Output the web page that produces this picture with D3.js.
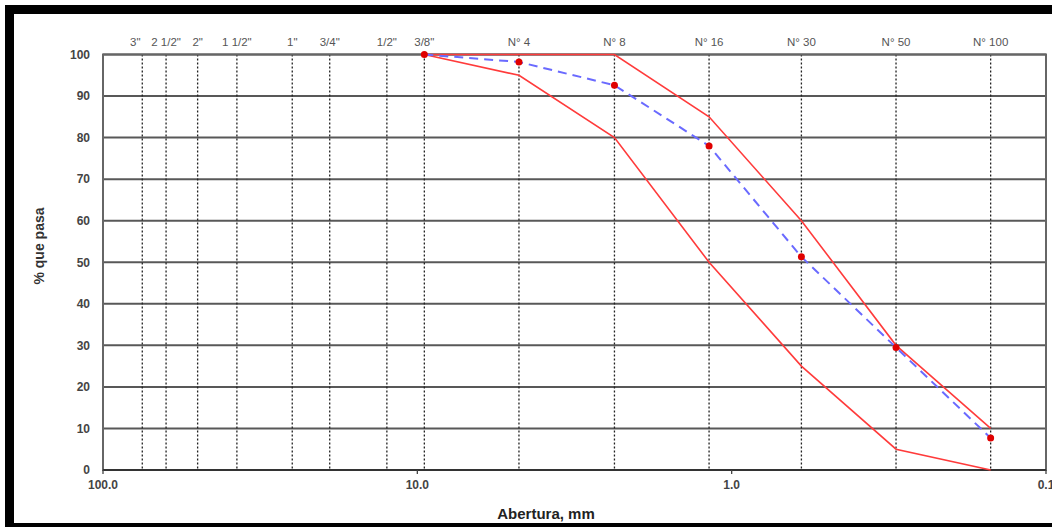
<!DOCTYPE html>
<html>
<head>
<meta charset="utf-8">
<script src="https://cdn.jsdelivr.net/npm/d3@7"></script>
<style>
  body { margin: 0; background: #fff; }
  svg { display: block; font-family: "Liberation Sans", Arial, sans-serif; }
</style>
</head>
<body>
<div id="chart"></div>
<script>
// sieve names and openings (mm)
var sieveLabels = ['3"', '2 1/2"', '2"', '1 1/2"', '1"', '3/4"', '1/2"', '3/8"', 'N° 4', 'N° 8', 'N° 16', 'N° 30', 'N° 50', 'N° 100'];
var sieveSizes  = [75, 63, 50, 37.5, 25, 19, 12.5, 9.5, 4.75, 2.36, 1.18, 0.6, 0.3, 0.15];

// gradation curves (from 3/8" down to N° 100)
var curveSizes = [9.5, 4.75, 2.36, 1.18, 0.6, 0.3, 0.15];
var upperLimit = [100, 100, 100, 85, 60, 30, 10];
var lowerLimit = [100, 95, 80, 50, 25, 5, 0];
var sample     = [100, 98.2, 92.6, 78, 51.3, 29.5, 7.7];

var xTicks = [100, 10, 1, 0.1];
var yTicks = [0, 10, 20, 30, 40, 50, 60, 70, 80, 90, 100];

(function() {
  var W = 1052, H = 527;
  var pl = 103, pr = 1046, pt = 54.5, pb = 470;

  var svg = d3.select('#chart').append('svg')
    .attr('width', W)
    .attr('height', H);

  var x = d3.scaleLog().domain([100, 0.1]).range([pl, pr]);
  var y = d3.scaleLinear().domain([0, 100]).range([pb, pt]);

  // horizontal grid
  svg.append('g')
    .selectAll('line')
    .data(yTicks)
    .enter().append('line')
      .attr('x1', pl).attr('x2', pr)
      .attr('y1', function(d) { return y(d); })
      .attr('y2', function(d) { return y(d); })
      .attr('stroke', '#585858')
      .attr('stroke-width', 2);

  // sieve lines
  svg.append('g')
    .selectAll('line')
    .data(sieveSizes)
    .enter().append('line')
      .attr('x1', function(d) { return x(d); })
      .attr('x2', function(d) { return x(d); })
      .attr('y1', pt).attr('y2', pb)
      .attr('stroke', '#222')
      .attr('stroke-width', 1.3)
      .attr('stroke-dasharray', '2,2');

  // frame
  svg.append('rect')
    .attr('x', pl).attr('y', pt)
    .attr('width', pr - pl).attr('height', pb - pt)
    .attr('fill', 'none')
    .attr('stroke', '#666')
    .attr('stroke-width', 2);

  svg.append('line')
    .attr('x1', pl).attr('x2', pr)
    .attr('y1', pb).attr('y2', pb)
    .attr('stroke', '#333').attr('stroke-width', 2);

  // y axis labels
  svg.append('g')
    .selectAll('text')
    .data(yTicks)
    .enter().append('text')
      .attr('x', 90)
      .attr('y', function(d) { return y(d); })
      .attr('dy', '0.36em')
      .attr('text-anchor', 'end')
      .attr('font-size', 12)
      .attr('font-weight', 'bold')
      .attr('fill', '#444')
      .text(function(d) { return d; });

  // x axis ticks + labels
  var xg = svg.append('g');
  xg.selectAll('line')
    .data(xTicks)
    .enter().append('line')
      .attr('x1', function(d) { return x(d); })
      .attr('x2', function(d) { return x(d); })
      .attr('y1', pb).attr('y2', pb + 4)
      .attr('stroke', '#444').attr('stroke-width', 1.3);
  xg.selectAll('text')
    .data(xTicks)
    .enter().append('text')
      .attr('x', function(d) { return x(d); })
      .attr('y', 489)
      .attr('text-anchor', 'middle')
      .attr('font-size', 12)
      .attr('font-weight', 'bold')
      .attr('fill', '#444')
      .text(function(d) { return d.toFixed(1); });

  // sieve labels on top (3" sits a little left of its line)
  svg.append('g')
    .selectAll('text')
    .data(sieveSizes)
    .enter().append('text')
      .attr('x', function(d, i) { return x(d) - (i === 0 ? 7 : 0); })
      .attr('y', 46)
      .attr('text-anchor', 'middle')
      .attr('font-size', 11.5)
      .attr('fill', '#555')
      .text(function(d, i) { return sieveLabels[i]; });

  // axis titles
  svg.append('text')
    .attr('transform', 'translate(44,246) rotate(-90)')
    .attr('text-anchor', 'middle')
    .attr('font-size', 14)
    .attr('font-weight', 'bold')
    .attr('fill', '#333')
    .text('% que pasa');

  svg.append('text')
    .attr('x', 546)
    .attr('y', 519)
    .attr('text-anchor', 'middle')
    .attr('font-size', 15)
    .attr('font-weight', 'bold')
    .attr('fill', '#222')
    .text('Abertura, mm');

  // curves
  var line = d3.line()
    .x(function(d) { return x(d[0]); })
    .y(function(d) { return y(d[1]); });

  function pairs(vals) {
    return curveSizes.map(function(s, i) { return [s, vals[i]]; });
  }

  [upperLimit, lowerLimit].forEach(function(v) {
    svg.append('path')
      .attr('d', line(pairs(v)))
      .attr('fill', 'none')
      .attr('stroke', '#ff3b3b')
      .attr('stroke-width', 1.6);
  });

  svg.append('path')
    .attr('d', line(pairs(sample)))
    .attr('fill', 'none')
    .attr('stroke', '#6a6aff')
    .attr('stroke-width', 2)
    .attr('stroke-dasharray', '9,6');

  svg.append('g')
    .selectAll('circle')
    .data(pairs(sample))
    .enter().append('circle')
      .attr('cx', function(d) { return x(d[0]); })
      .attr('cy', function(d) { return y(d[1]); })
      .attr('r', 3.5)
      .attr('fill', '#e00000');

  // black border of the scanned sheet
  svg.append('rect').attr('x', 5).attr('y', 5).attr('width', W - 5).attr('height', 9).attr('fill', '#000');
  svg.append('rect').attr('x', 5).attr('y', 5).attr('width', 9).attr('height', H - 5).attr('fill', '#000');
  svg.append('rect').attr('x', 5).attr('y', 523).attr('width', W - 5).attr('height', 4).attr('fill', '#000');
})();
</script>
</body>
</html>
